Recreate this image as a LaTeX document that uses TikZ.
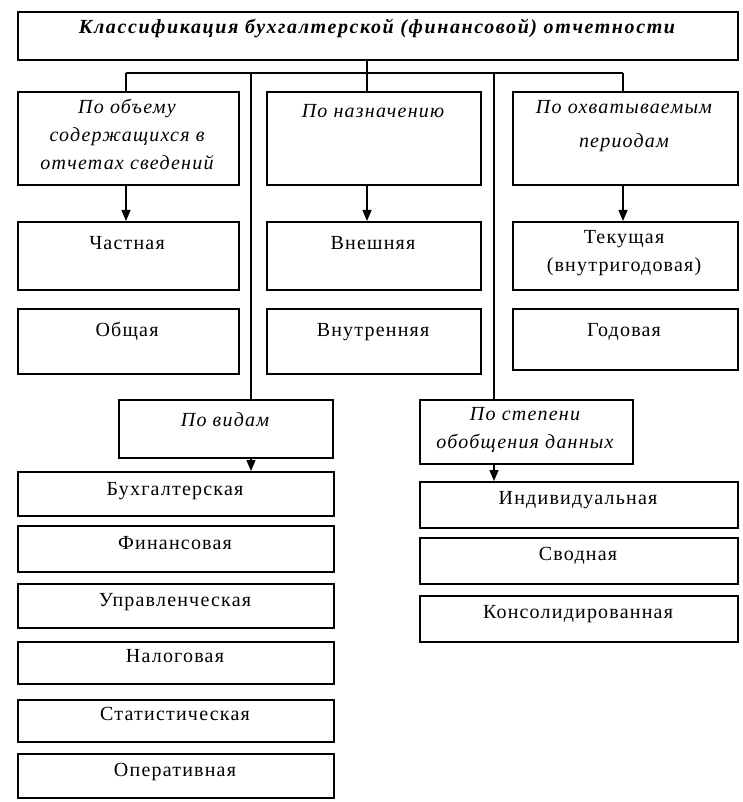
\documentclass[tikz,border=0pt]{standalone}
\usepackage{fontspec}
\setmainfont[LetterSpace=6]{Liberation Serif}
\newfontfamily\ttlfont[LetterSpace=8]{Liberation Serif}
\usetikzlibrary{arrows.meta}
\begin{document}
\begin{tikzpicture}[x=1pt,y=-1pt,
  box/.style={draw, line width=1.6pt, inner sep=0pt, anchor=north west},
  leaf/.style={anchor=base, inner sep=0pt, align=center, font=\fontsize{20}{28}\selectfont},
  hdr/.style={anchor=base, inner sep=0pt, align=center, font=\fontsize{20}{28}\selectfont\itshape},
  ttl/.style={anchor=base, inner sep=0pt, font=\ttlfont\fontsize{20}{28}\selectfont\bfseries\itshape},
  line/.style={line width=1.4pt},
  arr/.style={line width=1.4pt, -{Triangle[width=9pt,length=11pt]}}]
\useasboundingbox (0,0) rectangle (742,802);
\newcommand\bx[5]{\node[box, minimum width=#4pt-#2pt, minimum height=#5pt-#3pt] (#1) at (#2,#3) {};}
% boxes
\bx{top}{17}{11}{737}{59}
\bx{h1}{17}{91}{238}{184}
\bx{h2}{266}{91}{480}{184}
\bx{h3}{512}{91}{737}{184}
\bx{c}{17}{221}{238}{289}
\bx{e}{266}{221}{480}{289}
\bx{t}{512}{221}{737}{289}
\bx{o}{17}{308}{238}{373}
\bx{i}{266}{308}{480}{373}
\bx{g}{512}{308}{737}{369}
\bx{pv}{118}{399}{332}{457}
\bx{ps}{419}{399}{632}{463}
\bx{l1}{17}{471}{333}{515}
\bx{l2}{17}{525}{333}{571}
\bx{l3}{17}{583}{333}{627}
\bx{l4}{17}{641}{333}{683}
\bx{l5}{17}{699}{333}{741}
\bx{l6}{17}{753}{333}{797}
\bx{r1}{419}{481}{737}{527}
\bx{r2}{419}{537}{737}{583}
\bx{r3}{419}{595}{737}{641}
% texts
\node[ttl] at (377,34) {Классификация бухгалтерской (финансовой) отчетности};
\node[hdr] at (127,170) {По объему\\содержащихся в\\отчетах сведений};
\node[hdr] at (373,118) {По назначению};
\node[hdr, font=\fontsize{20}{34}\selectfont\itshape] at (624,148) {По охватываемым\\периодам};
\node[leaf] at (127,249) {Частная};
\node[leaf] at (373,249) {Внешняя};
\node[leaf] at (624,271) {Текущая\\(внутригодовая)};
\node[leaf] at (127,336) {Общая};
\node[leaf] at (373,336) {Внутренняя};
\node[leaf] at (624,336) {Годовая};
\node[hdr] at (225,426) {По видам};
\node[hdr] at (525,448) {По степени\\обобщения данных};
\node[leaf] at (175,495) {Бухгалтерская};
\node[leaf] at (175,549) {Финансовая};
\node[leaf] at (175,606) {Управленческая};
\node[leaf] at (175,662) {Налоговая};
\node[leaf] at (175,720) {Статистическая};
\node[leaf] at (175,776) {Оперативная};
\node[leaf] at (578,504) {Индивидуальная};
\node[leaf] at (578,560) {Сводная};
\node[leaf] at (578,618) {Консолидированная};
% connectors
\coordinate (b0) at (367,73);
\coordinate (b1) at (126,73);
\coordinate (b2) at (251,73);
\coordinate (b4) at (494,73);
\coordinate (b5) at (623,73);
\draw[line] (top.south -| b0) -- (b0);
\draw[line] (b1) -- (b5);
\draw[line] (b1) -- (b1 |- h1.north);
\draw[line] (b2) -- (b2 |- pv.north);
\draw[line] (b0) -- (b0 |- h2.north);
\draw[line] (b4) -- (b4 |- ps.north);
\draw[line] (b5) -- (b5 |- h3.north);
\draw[arr] (b1 |- h1.south) -- (b1 |- c.north);
\draw[arr] (b0 |- h2.south) -- (b0 |- e.north);
\draw[arr] (b5 |- h3.south) -- (b5 |- t.north);
\draw[arr] (b2 |- pv.south) -- (b2 |- l1.north);
\draw[arr] (b4 |- ps.south) -- (b4 |- r1.north);
\end{tikzpicture}
\end{document}
